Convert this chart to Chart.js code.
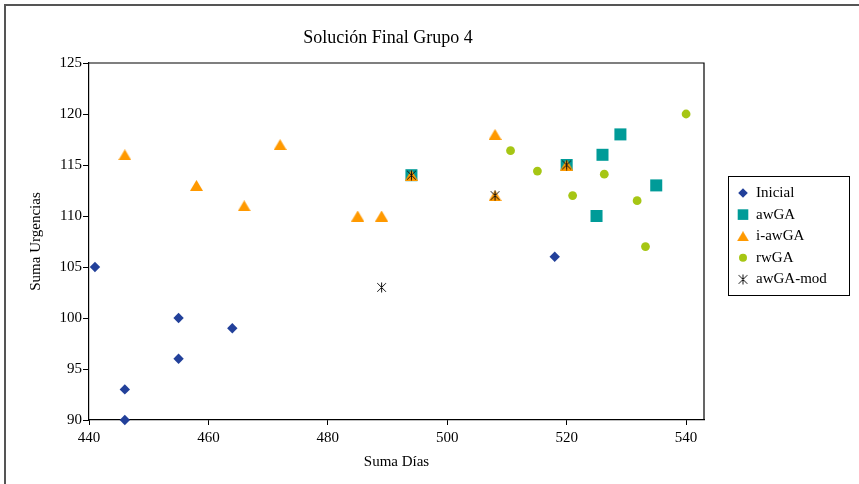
<!DOCTYPE html>
<html><head><meta charset="utf-8">
<script src="https://cdn.jsdelivr.net/npm/chart.js@4/dist/chart.umd.min.js"></script>
<style>
html,body{margin:0;padding:0;background:#fff;overflow:hidden}
#wrap{position:relative;width:859px;height:484px}
#frame{position:absolute;left:4px;top:4px;width:900px;height:600px;border-left:2px solid #555;border-top:2px solid #555;pointer-events:none}
canvas{position:absolute;left:0;top:0}
</style></head><body>
<div id="wrap"><canvas id="c" width="859" height="484"></canvas><div id="frame"></div></div>
<script>
// ---- data ----
const chartTitle = 'Solución Final Grupo 4';
const xTitle = 'Suma Días';
const yTitle = 'Suma Urgencias';
const seriesNames = ['Inicial', 'awGA', 'i-awGA', 'rwGA', 'awGA-mod'];
const inicialX = [441, 446, 446, 455, 455, 464, 518];
const inicialY = [105, 93, 90, 100, 96, 99, 106];
const awgaX = [494, 520, 526, 529, 525, 535];
const awgaY = [114, 115, 116, 118, 110, 113];
const iawgaX = [446, 458, 466, 472, 485, 489, 494, 508, 508, 520];
const iawgaY = [116, 113, 111, 117, 110, 110, 114, 118, 112, 115];
const rwgaX = [510.6, 515.1, 521, 526.3, 531.8, 533.2, 540];
const rwgaY = [116.4, 114.4, 112, 114.1, 111.5, 107, 120];
const awgaModX = [489, 494, 508, 520];
const awgaModY = [103, 114, 112, 115];
const xTicks = [440, 460, 480, 500, 520, 540];
const yTicks = [90, 95, 100, 105, 110, 115, 120, 125];

const FONT = "'Liberation Serif', 'Times New Roman', serif";
const pts = (xs, ys) => xs.map((x, i) => ({x: x, y: ys[i]}));

// asterisk marker
function makeAsterisk(size) {
  const c = document.createElement('canvas');
  c.width = size; c.height = size;
  const g = c.getContext('2d');
  g.strokeStyle = '#111'; g.lineWidth = 1;
  const m = size / 2, r = size / 2 - 0.5;
  g.beginPath();
  g.moveTo(m, m - r); g.lineTo(m, m + r);
  g.moveTo(m - r * 0.87, m - r * 0.87); g.lineTo(m + r * 0.87, m + r * 0.87);
  g.moveTo(m + r * 0.87, m - r * 0.87); g.lineTo(m - r * 0.87, m + r * 0.87);
  g.stroke();
  return c;
}
// bbox-centred triangle marker
function makeTriangle(w, h, color) {
  const c = document.createElement('canvas');
  c.width = w; c.height = h;
  const g = c.getContext('2d');
  g.fillStyle = color;
  g.beginPath();
  g.moveTo(w / 2, 0); g.lineTo(w, h); g.lineTo(0, h); g.closePath();
  g.fill();
  return c;
}
const star = makeAsterisk(11);
const tri = makeTriangle(13, 11, '#FF9900');
const triSmall = makeTriangle(12, 10, '#FF9900');

const styles = [
  {color: '#22409A', pointStyle: 'rectRot', legendStyle: 'rectRot', radius: 5.2, lr: 4.8, order: 4},
  {color: '#009B98', pointStyle: 'rect', legendStyle: 'rect', radius: 8.5, lr: 7.5, order: 3},
  {color: '#FF9900', pointStyle: tri, legendStyle: triSmall, radius: 7, lr: 6, order: 2},
  {color: '#A6C614', pointStyle: 'circle', legendStyle: 'circle', radius: 4.4, lr: 4, order: 1},
  {color: '#111111', pointStyle: star, legendStyle: star, radius: 5, lr: 5, order: 0}
];
const seriesData = [pts(inicialX, inicialY), pts(awgaX, awgaY), pts(iawgaX, iawgaY), pts(rwgaX, rwgaY), pts(awgaModX, awgaModY)];

const datasets = seriesNames.map((name, i) => ({
  label: name,
  data: seriesData[i],
  order: styles[i].order,
  clip: false,
  pointStyle: styles[i].pointStyle,
  pointRadius: styles[i].radius,
  pointHoverRadius: styles[i].radius,
  pointBackgroundColor: styles[i].color,
  pointBorderColor: styles[i].color,
  pointBorderWidth: 0,
  showLine: false
}));

const framePlugin = {
  id: 'frameAndLegend',
  beforeDatasetsDraw(chart) {
    const {ctx, chartArea: a} = chart;
    ctx.save();
    ctx.strokeStyle = '#000';
    ctx.lineWidth = 1.2;
    ctx.beginPath();
    ctx.moveTo(a.left, a.top); ctx.lineTo(a.right, a.top); ctx.lineTo(a.right, a.bottom);
    ctx.stroke();
    ctx.restore();
  },
  afterDraw(chart) {
    const {ctx} = chart;
    ctx.save();
    // title
    ctx.fillStyle = '#000';
    ctx.font = '18px ' + FONT;
    ctx.textAlign = 'center';
    ctx.textBaseline = 'middle';
    ctx.fillText(chartTitle, 388, 38);
    // legend
    const lx = 728.5, ly = 176.5, lw = 121, lh = 119;
    ctx.lineWidth = 1;
    ctx.strokeStyle = '#000';
    ctx.strokeRect(lx, ly, lw, lh);
    ctx.font = '15px ' + FONT;
    ctx.textBaseline = 'middle';
    ctx.textAlign = 'left';
    chart.data.datasets.forEach((ds, i) => {
      const y = 193 + i * 21.6;
      const st = styles[i];
      ctx.fillStyle = st.color;
      ctx.strokeStyle = st.color;
      if (Chart.helpers && Chart.helpers.drawPoint) {
        Chart.helpers.drawPoint(ctx, {pointStyle: st.legendStyle, radius: st.lr, rotation: 0, borderWidth: 0}, 743, y);
      }
      ctx.fillStyle = '#000';
      ctx.fillText(ds.label, 756, y);
    });
    ctx.restore();
  }
};

new Chart(document.getElementById('c'), {
  type: 'scatter',
  data: {datasets: datasets},
  options: {
    responsive: false,
    animation: false,
    events: [],
    layout: {padding: {left: 0, right: 155, top: 63, bottom: 0}},
    plugins: {
      legend: {display: false},
      tooltip: {enabled: false},
      title: {display: false}
    },
    scales: {
      x: {
        type: 'linear', min: 440, max: 543,
        afterBuildTicks: s => { s.ticks = xTicks.map(v => ({value: v})); },
        afterFit: s => { s.height = 64; },
        border: {display: true, color: '#000', width: 1.2},
        grid: {drawOnChartArea: false, drawTicks: true, tickLength: 5, tickColor: '#000'},
        ticks: {color: '#000', font: {family: FONT, size: 15}, padding: 4, maxRotation: 0},
        title: {display: true, text: xTitle, color: '#000', font: {family: FONT, size: 15, lineHeight: 1.2}, padding: {top: 0, bottom: 13}}
      },
      y: {
        type: 'linear', min: 90, max: 125,
        afterBuildTicks: s => { s.ticks = yTicks.map(v => ({value: v})); },
        afterFit: s => { s.width = 89; },
        border: {display: true, color: '#000', width: 1.2},
        grid: {drawOnChartArea: false, drawTicks: true, tickLength: 6, tickColor: '#000'},
        ticks: {color: '#000', font: {family: FONT, size: 15}, padding: 1},
        title: {display: true, text: yTitle, color: '#000', font: {family: FONT, size: 15, lineHeight: 1.2}, padding: {top: 27, bottom: 0}}
      }
    }
  },
  plugins: [framePlugin]
});
</script>
</body></html>
